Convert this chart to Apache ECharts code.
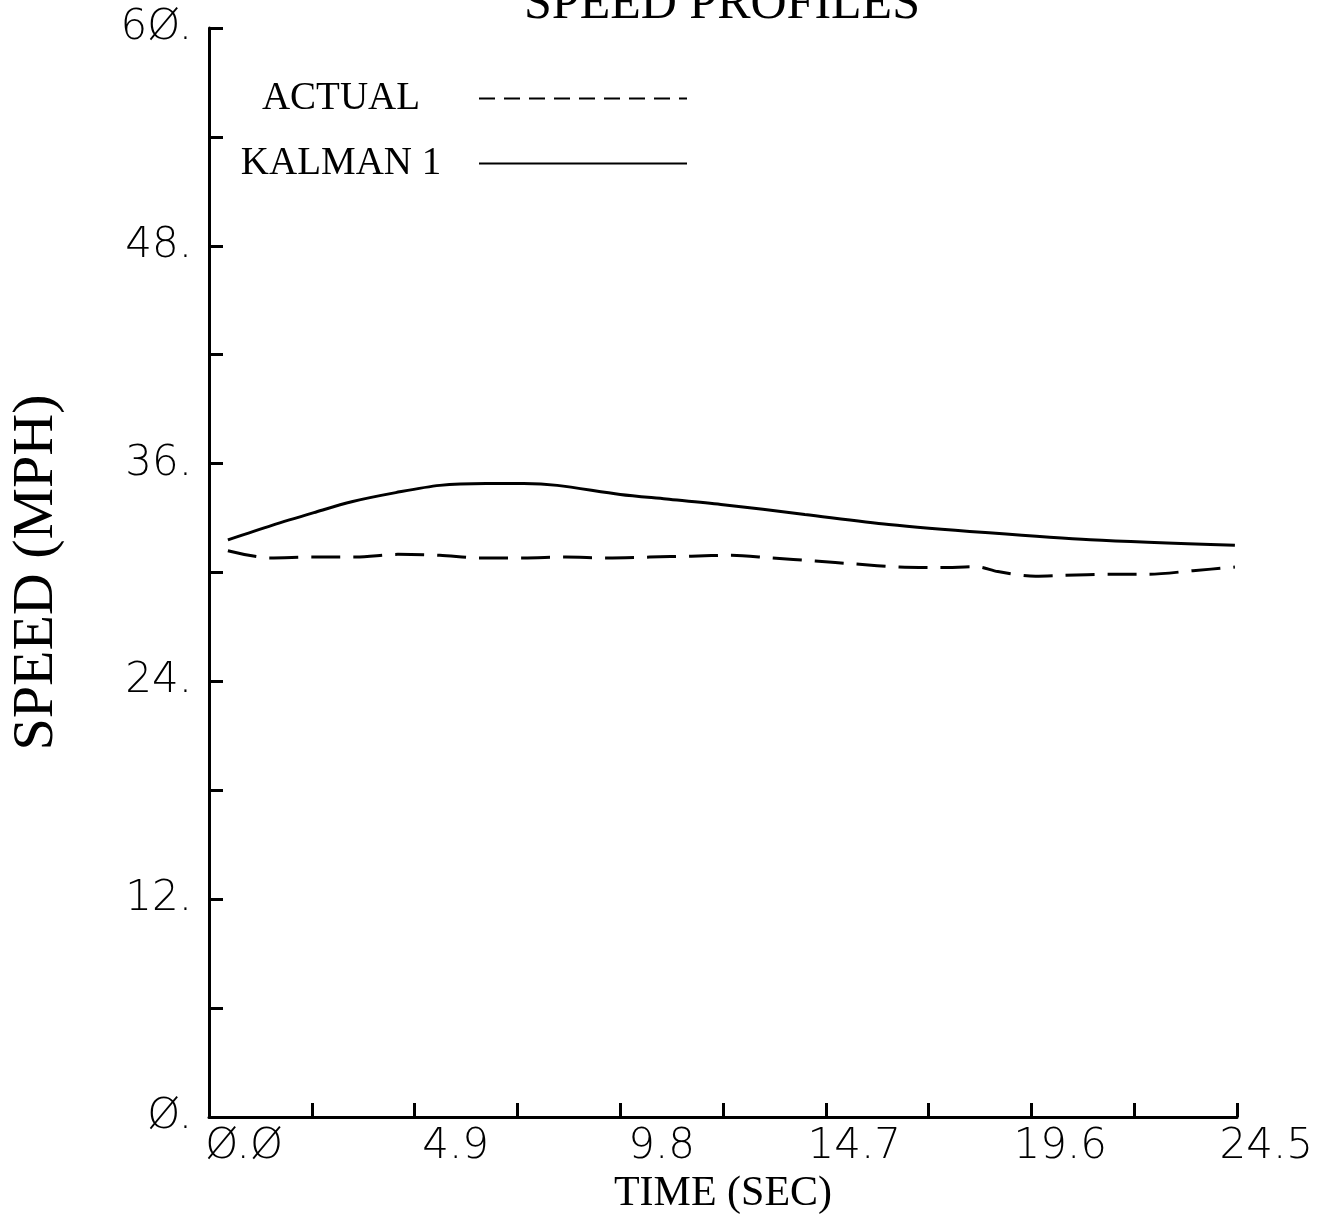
<!DOCTYPE html>
<html>
<head>
<meta charset="utf-8">
<script src="https://cdn.jsdelivr.net/npm/echarts@6/dist/echarts.min.js"></script>
<style>
html,body{margin:0;padding:0;background:#fff;}
#main{width:1326px;height:1224px;}
</style>
</head>
<body>
<div id="main"></div>
<script>
// ---- data ----
var titleText = 'SPEED PROFILES';
var xAxisTitle = 'TIME (SEC)';
var yAxisTitle = 'SPEED (MPH)';
var seriesNames = ['ACTUAL', 'KALMAN 1'];

var xTickLabels = ['Ø.Ø', '4.9', '9.8', '14.7', '19.6', '24.5'];
var yTickLabels = ['Ø.', '12.', '24.', '36.', '48.', '6Ø.'];

var actualTime  = [0.45, 1.45, 2.5, 3.5, 4.5, 5.5, 6.45, 7.5, 8.5, 9.5, 10.5, 11.5, 12.45, 13.4, 14.45, 15.4, 16.45, 17.4, 18.3, 18.8, 19.7, 20.4, 21.45, 22.4, 23.45, 24.45];
var actualSpeed = [31.2, 30.8, 30.85, 30.85, 31.0, 30.95, 30.8, 30.8, 30.85, 30.8, 30.85, 30.9, 30.95, 30.8, 30.63, 30.47, 30.3, 30.27, 30.32, 30.05, 29.8, 29.85, 29.9, 29.9, 30.1, 30.3];

var kalmanTime  = [0.45, 1.5, 2.5, 3.4, 4.45, 5.5, 6.6, 7.5, 8.3, 9.8, 10.9, 12.2, 14.2, 16.2, 18.5, 21.0, 24.45];
var kalmanSpeed = [31.8, 32.6, 33.3, 33.9, 34.4, 34.8, 34.9, 34.9, 34.8, 34.3, 34.05, 33.75, 33.2, 32.65, 32.2, 31.8, 31.5];

function pairs(xs, ys) { return xs.map(function (x, i) { return [x, ys[i]]; }); }

var serif = '"Liberation Serif", "Times New Roman", serif';
var thin = '"DejaVu Sans", Lato, sans-serif';

var chart = echarts.init(document.getElementById('main'), null, {renderer: 'canvas'});

var option = {
  backgroundColor: '#fff',
  animation: false,
  graphic: [{
    type: 'text',
    x: 722, y: 5,
    style: {
      text: titleText,
      fill: '#000',
      font: 'normal 50px ' + serif,
      align: 'center',
      verticalAlign: 'middle'
    }
  }],
  legend: {
    orient: 'vertical',
    left: 208,
    top: 79,
    padding: 0,
    align: 'right',
    itemWidth: 208,
    itemHeight: 40,
    itemGap: 26,
    formatter: '{c|{name}}',
    textStyle: {
      color: '#000',
      rich: {
        c: { width: 266, align: 'center', fontSize: 39, fontFamily: serif, lineHeight: 40, color: '#000' }
      }
    },
    itemStyle: { opacity: 0, borderWidth: 0 },
    lineStyle: { width: 2 },
    data: [
      { name: seriesNames[0], lineStyle: { type: [16, 9], width: 2 } },
      { name: seriesNames[1], lineStyle: { width: 2 } }
    ]
  },
  grid: [
    { left: 207, right: 89, top: 28, bottom: 107, containLabel: false },
    { left: 283, right: 13, top: 28, bottom: 107, containLabel: false }
  ],
  xAxis: [{
    type: 'value', gridIndex: 0,
    min: 0, max: 24.5, interval: 2.45,
    splitLine: { show: false },
    axisLine: { show: true, onZero: false, lineStyle: { color: '#000', width: 3 } },
    axisTick: { show: true, inside: true, length: 14, lineStyle: { color: '#000', width: 3 } },
    axisLabel: { show: false },
    name: xAxisTitle,
    nameLocation: 'middle',
    nameGap: 56,
    nameTextStyle: { color: '#000', fontFamily: serif, fontSize: 42 }
  }, {
    type: 'value', gridIndex: 1,
    min: 0, max: 24.5, interval: 4.9,
    splitLine: { show: false },
    axisLine: { show: false },
    axisTick: { show: false },
    axisLabel: {
      show: true, align: 'right', margin: 9,
      color: '#000', fontFamily: thin, fontWeight: 200, fontSize: 42,
      formatter: function (v) {
        var i = Math.round(v / 4.9);
        return xTickLabels[i] !== undefined ? xTickLabels[i] : '';
      }
    }
  }],
  yAxis: [{
    type: 'value', gridIndex: 0,
    min: 0, max: 60, interval: 6,
    splitLine: { show: false },
    axisLine: { show: true, onZero: false, lineStyle: { color: '#000', width: 3 } },
    axisTick: { show: true, inside: true, length: 14, lineStyle: { color: '#000', width: 3 } },
    axisLabel: {
      show: true, margin: 17,
      color: '#000', fontFamily: thin, fontWeight: 200, fontSize: 42,
      formatter: function (v) {
        if (Math.round(v) % 12 !== 0) return '';
        return yTickLabels[Math.round(v / 12)];
      }
    },
    name: yAxisTitle,
    nameLocation: 'middle',
    nameRotate: 90,
    nameGap: 143,
    nameTextStyle: { color: '#000', fontFamily: serif, fontSize: 58 }
  }, {
    type: 'value', gridIndex: 1, min: 0, max: 60, show: false
  }],
  series: [{
    name: seriesNames[0],
    type: 'line',
    xAxisIndex: 0, yAxisIndex: 0,
    data: pairs(actualTime, actualSpeed),
    symbol: 'none',
    smooth: 0.3,
    lineStyle: { color: '#000', width: 3, type: [29, 13] },
    itemStyle: { color: '#000' }
  }, {
    name: seriesNames[1],
    type: 'line',
    xAxisIndex: 0, yAxisIndex: 0,
    data: pairs(kalmanTime, kalmanSpeed),
    symbol: 'none',
    smooth: 0.3,
    lineStyle: { color: '#000', width: 3, type: 'solid' },
    itemStyle: { color: '#000' }
  }]
};
chart.setOption(option);
</script>
</body>
</html>
